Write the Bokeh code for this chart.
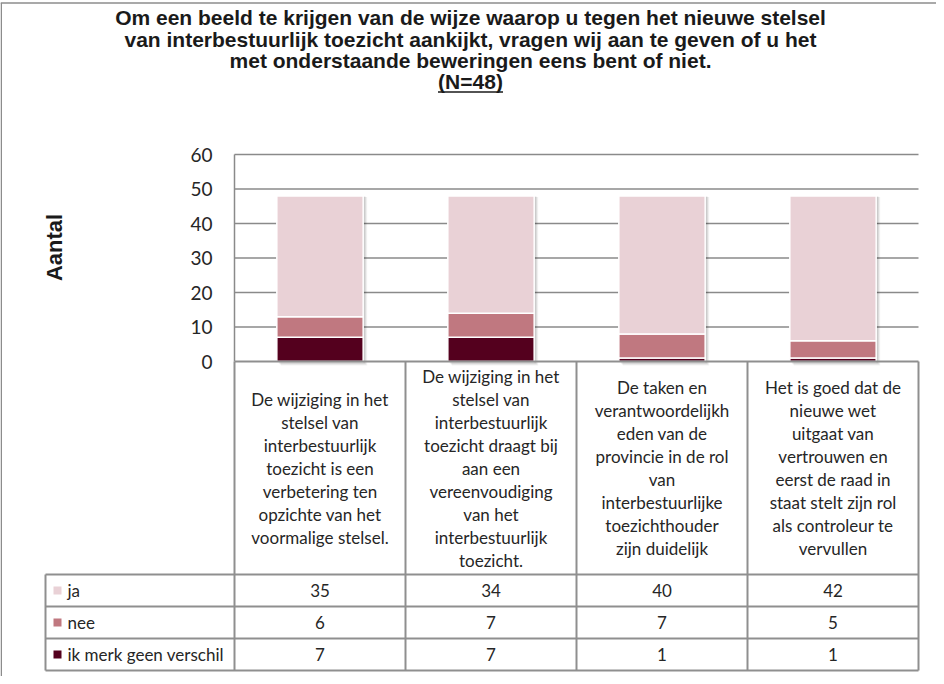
import numpy as np
from bokeh.plotting import figure
from bokeh.models import Range1d
from bokeh.core.properties import value
from bokeh.embed import file_html
from bokeh.resources import INLINE

# ---------------- data ----------------
title_lines = [
    "Om een beeld te krijgen van de wijze waarop u tegen het nieuwe stelsel",
    "van interbestuurlijk toezicht aankijkt, vragen wij aan te geven of u het",
    "met onderstaande beweringen eens bent of niet.",
    "(N=48)",
]
y_label = "Aantal"
y_ticks = [0, 10, 20, 30, 40, 50, 60]
categories = [
    ["De wijziging in het", "stelsel van", "interbestuurlijk", "toezicht is een",
     "verbetering ten", "opzichte van het", "voormalige stelsel."],
    ["De wijziging in het", "stelsel van", "interbestuurlijk", "toezicht draagt bij",
     "aan een", "vereenvoudiging", "van het", "interbestuurlijk", "toezicht."],
    ["De taken en", "verantwoordelijkh", "eden van de", "provincie in de rol",
     "van", "interbestuurlijke", "toezichthouder", "zijn duidelijk"],
    ["Het is goed dat de", "nieuwe wet", "uitgaat van", "vertrouwen en",
     "eerst de raad in", "staat stelt zijn rol", "als controleur te", "vervullen"],
]
series_names = ["ja", "nee", "ik merk geen verschil"]
ja = [35, 34, 40, 42]
nee = [6, 7, 7, 5]
geen_verschil = [7, 7, 1, 1]
series_values = [ja, nee, geen_verschil]
colors = ["#E9D1D6", "#C07880", "#54001E"]

# ---------------- layout (canvas pixels) ----------------
W, H = 936, 676
PL, PR = 234, 918          # plot area left/right
PT, PB = 154, 361          # y=60 / y=0
YMAX = 60
n = len(categories)
unit = (PR - PL) / n
ppu = (PB - PT) / YMAX

def dx(px):
    return (px - PL) / unit

def dy(py):
    return (PB - py) / ppu

p = figure(width=W, height=H, output_backend="svg", toolbar_location=None,
           x_range=Range1d(dx(0), dx(W)), y_range=Range1d(dy(H), dy(0)),
           x_axis_location=None, y_axis_location=None, min_border=0,
           background_fill_color="white", border_fill_color="white")
p.outline_line_color = None
p.xgrid.visible = False
p.ygrid.visible = False

GRID = "#8a8a8a"
BORDER = "#8f8f8f"
TXT = "#262626"
FONT = value("Lato")
TFONT = value("Liberation Sans")

# outer frame (top + left)
p.segment(x0=[dx(0), dx(0.75)], y0=[dy(2.5), dy(2.5)], x1=[dx(W), dx(0.75)], y1=[dy(2.5), dy(H)],
          line_color="#8c8c8c", line_width=1.5)

# title
tx = dx(470)
title_y = [17, 39, 60, 81]
for i, t in enumerate(title_lines):
    p.text(x=[tx], y=[dy(title_y[i])], text=[t], text_font=TFONT,
           text_font_style="bold", text_font_size="21px", text_align="center",
           text_baseline="middle", text_color="#1a1a1a")
uw = 65
p.segment(x0=[dx(470 - uw / 2)], y0=[dy(91.5)], x1=[dx(470 + uw / 2)], y1=[dy(91.5)],
          line_color="#1a1a1a", line_width=1.5)

# y axis label
p.text(x=[dx(54)], y=[dy(247)], text=[y_label], angle=np.pi / 2, text_font=TFONT,
       text_font_style="bold", text_font_size="22px", text_align="center",
       text_baseline="middle", text_color="#1a1a1a")

# gridlines
gt = [t for t in y_ticks if t > 0]
p.segment(x0=[0] * len(gt), y0=gt, x1=[n] * len(gt), y1=gt, line_color=GRID, line_width=1.5)
# plot area left border
p.segment(x0=[0], y0=[0], x1=[0], y1=[YMAX], line_color=GRID, line_width=1.5)
# tick labels
p.text(x=[dx(212)] * len(y_ticks), y=y_ticks, text=[str(t) for t in y_ticks],
       text_font=FONT, text_font_size="19px", text_align="right",
       text_baseline="middle", text_color=TXT)

# bars
xs = np.arange(n) + 0.5
bw = 0.505
stack_order = [2, 1, 0]  # bottom to top: ik merk geen verschil, nee, ja
totals = np.sum(np.array(series_values), axis=0)
# soft shadow
for off, a in [(4, 0.05), (3, 0.07), (2, 0.09)]:
    p.quad(left=xs - bw / 2 + off / unit, right=xs + bw / 2 + off / unit,
           bottom=np.zeros(n) - off / ppu, top=totals - off / ppu * 0.3,
           fill_color="black", fill_alpha=a, line_color=None)
bottom = np.zeros(n)
for k in stack_order:
    vals = np.array(series_values[k], dtype=float)
    p.vbar(x=xs, width=bw, bottom=bottom, top=bottom + vals, fill_color=colors[k],
           line_color="white", line_width=1.5)
    bottom = bottom + vals

# ---------------- data table ----------------
CAT_BOTTOM = 574
ROW_H = 32
TL = 45
rows_y = [CAT_BOTTOM + i * ROW_H for i in range(len(series_names) + 1)]
p.segment(x0=[0], y0=[0], x1=[n], y1=[0], line_color=BORDER, line_width=2)
p.segment(x0=[dx(TL)] * len(rows_y), y0=[dy(r) for r in rows_y], x1=[n] * len(rows_y),
          y1=[dy(r) for r in rows_y], line_color=BORDER, line_width=2)
vx = list(range(n + 1))
p.segment(x0=vx, y0=[0] * len(vx), x1=vx, y1=[dy(rows_y[-1])] * len(vx),
          line_color=BORDER, line_width=2)
p.segment(x0=[dx(TL)], y0=[dy(rows_y[0])], x1=[dx(TL)], y1=[dy(rows_y[-1])],
          line_color=BORDER, line_width=2)

# category labels
LH = 23
cy = (PB + CAT_BOTTOM) / 2
for i, lines in enumerate(categories):
    m = len(lines)
    ys = [dy(cy + (j - (m - 1) / 2) * LH) for j in range(m)]
    p.text(x=[i + 0.5] * m, y=ys, text=lines, text_font=FONT,
           text_font_size="17px", text_align="center", text_baseline="middle", text_color=TXT)

# table rows
for r, name in enumerate(series_names):
    ymid = dy(rows_y[r] + ROW_H / 2)
    p.rect(x=[dx(57)], y=[ymid], width=8 / unit, height=8 / ppu, fill_color=colors[r], line_color=None)
    p.text(x=[dx(67)], y=[ymid], text=[name], text_font=FONT, text_font_size="17px",
           text_align="left", text_baseline="middle", text_color=TXT)
    p.text(x=list(xs), y=[ymid] * n, text=[str(v) for v in series_values[r]],
           text_font=FONT, text_font_size="17px", text_align="center",
           text_baseline="middle", text_color=TXT)

open("out.html", "w").write(file_html(p, INLINE))
